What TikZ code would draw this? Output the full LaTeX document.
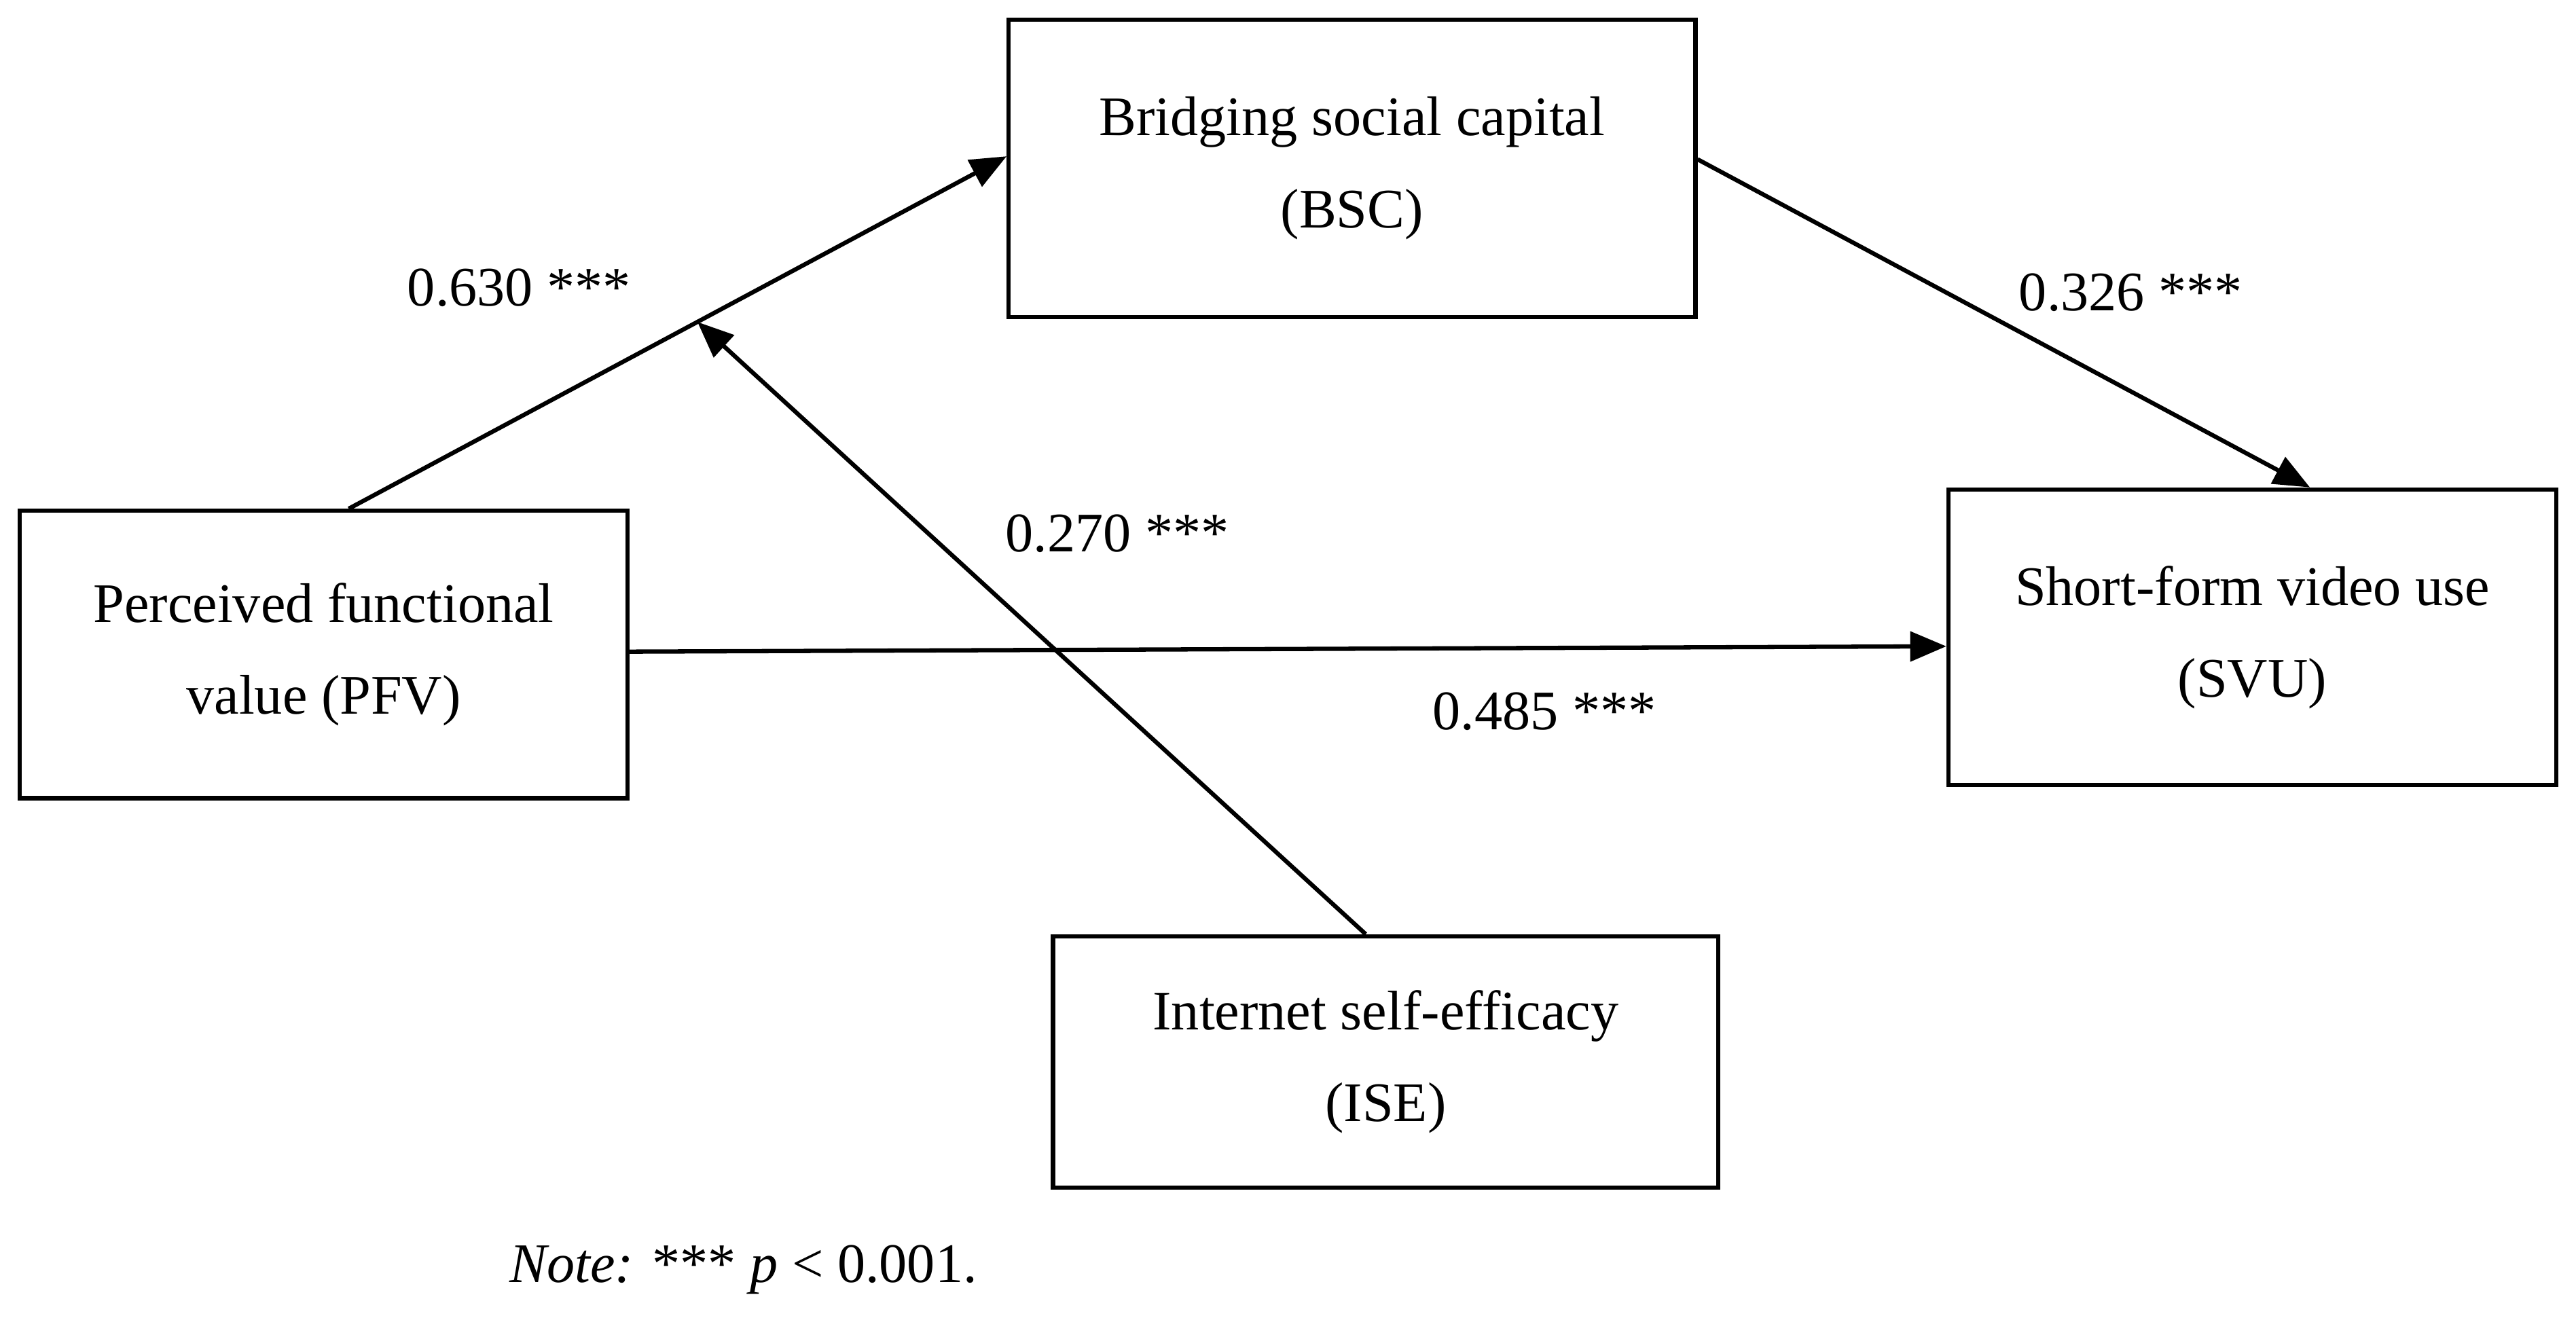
\documentclass[tikz,border=0pt]{standalone}
\usepackage{fontspec}
\setmainfont{Liberation Serif}
\usetikzlibrary{calc,arrows.meta}
\begin{document}
\begin{tikzpicture}[x=1pt,y=-1pt,
  box/.style={draw,line width=2.6pt,inner sep=0pt,align=center,font=\fontsize{34}{56}\selectfont},
  lab/.style={font=\fontsize{34}{40}\selectfont,inner sep=0pt},
  arr/.style={line width=2.6pt,-{Triangle[length=22pt,width=18pt]}}]
\useasboundingbox (0,0) rectangle (1568,802);
\node[box,minimum width=418pt,minimum height=181pt] (bsc) at (823,102.5) {Bridging social capital\\(BSC)};
\node[box,minimum width=370pt,minimum height=175pt] (pfv) at (197,398.5) {Perceived functional\\value (PFV)};
\node[box,minimum width=370pt,minimum height=180pt] (svu) at (1371,388) {Short-form video use\\(SVU)};
\node[box,minimum width=405pt,minimum height=153pt] (ise) at (843.5,646.5) {Internet self-efficacy\\(ISE)};
\coordinate (p1) at ($(pfv.north west)!0.541!(pfv.north east)$);
\coordinate (p2) at ($(bsc.north west)!0.46!(bsc.south west)$);
\coordinate (q1) at ($(bsc.north east)!0.47!(bsc.south east)$);
\coordinate (q2) at ($(svu.north west)!0.594!(svu.north east)$);
\coordinate (r1) at ($(pfv.north east)!0.49!(pfv.south east)$);
\coordinate (r2) at ($(svu.north west)!0.53!(svu.south west)$);
\coordinate (s1) at ($(ise.north west)!0.47!(ise.north east)$);
\coordinate (m) at ($(p1)!0.53!(p2)$);
\draw[arr] (p1) -- (p2);
\draw[arr] (q1) -- (q2);
\draw[arr] (r1) -- (r2);
\draw[arr] (s1) -- (m);
\node[lab] (l1) at (316,175) {0.630 ***};
\node[lab] (l2) at (1297,178) {0.326 ***};
\node[lab] (l3) at (680,325) {0.270 ***};
\node[lab] (l4) at (940,433) {0.485 ***};
\node[lab,anchor=west] (note) at (310,773) {\textit{Note:} *** \textit{p} < 0.001.};
\end{tikzpicture}
\end{document}
